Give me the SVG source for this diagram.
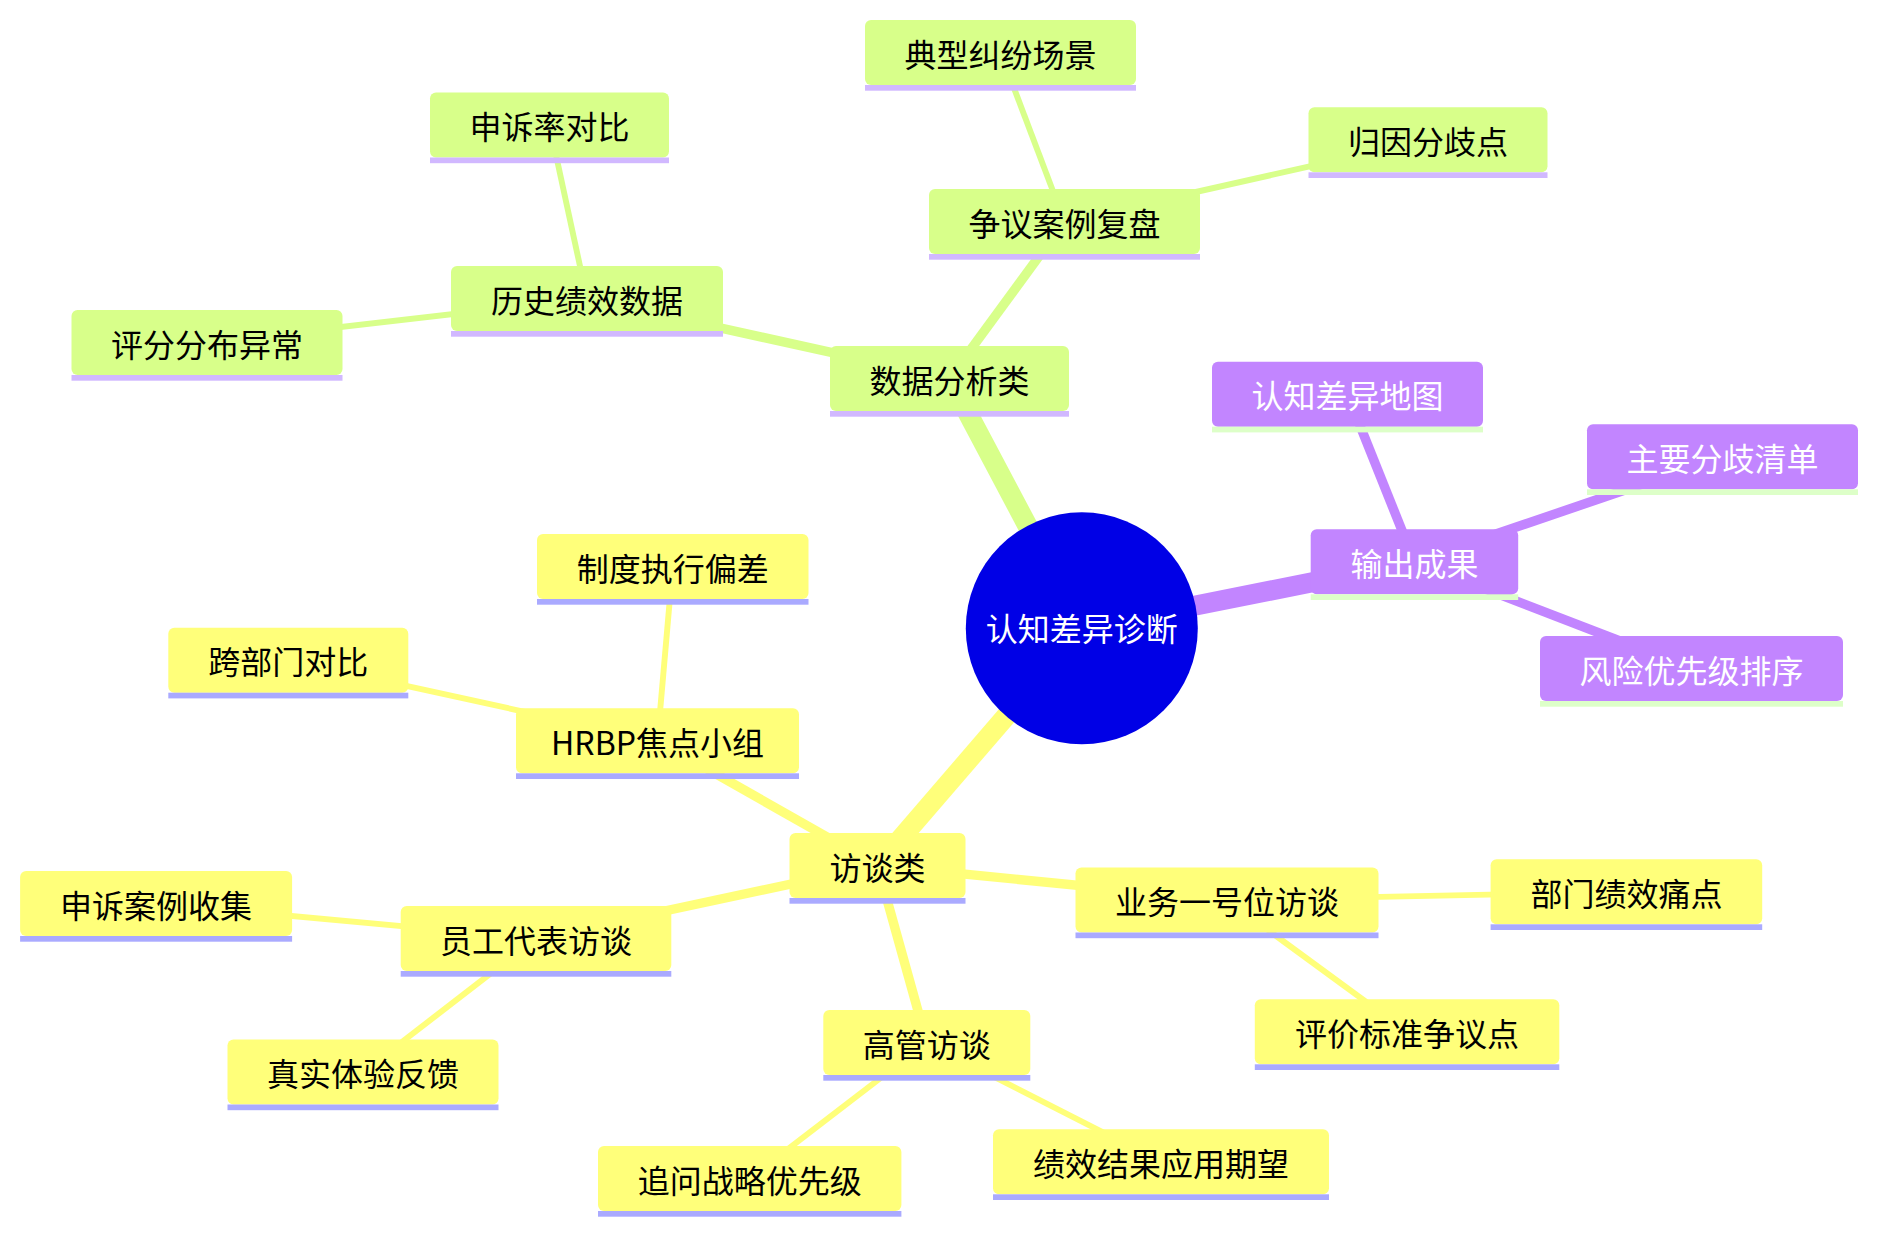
<svg xmlns="http://www.w3.org/2000/svg" width="1878" height="1233" viewBox="0 0 1878 1233">
<style>
text{font-family:"Noto Sans CJK SC","Noto Sans",sans-serif;font-size:32px;text-anchor:middle;dominant-baseline:central}
.g rect.b{fill:#d8ff8a}.g rect.u{fill:#d1b8ff}.g text{fill:#000}
.y rect.b{fill:#ffff7a}.y rect.u{fill:#aaaaff}.y text{fill:#000}
.p rect.b{fill:#c285ff}.p rect.u{fill:#ddffc8}.p text{fill:#fff}
.eg{stroke:#d8ff8a}.ey{stroke:#ffff7a}.ep{stroke:#c285ff}
.d0{stroke-width:20}.d1{stroke-width:9.4}.d2{stroke-width:5.9}
</style>
<rect width="1878" height="1233" fill="#fff"/>
<g id="connectors" fill="none">
<line class="eg d0" x1="1081.8" y1="628.3" x2="949.5" y2="378.5"/>
<line class="eg d1" x1="949.5" y1="378.5" x2="587" y2="298.5"/>
<line class="eg d2" x1="587" y1="298.5" x2="549.5" y2="125"/>
<line class="eg d2" x1="587" y1="298.5" x2="207" y2="342.5"/>
<line class="eg d1" x1="949.5" y1="378.5" x2="1064.5" y2="221.5"/>
<line class="eg d2" x1="1064.5" y1="221.5" x2="1000.5" y2="52.5"/>
<line class="eg d2" x1="1064.5" y1="221.5" x2="1428" y2="139.8"/>
<line class="ep d0" x1="1081.8" y1="628.3" x2="1414.5" y2="561.8"/>
<line class="ep d1" x1="1414.5" y1="561.8" x2="1347.5" y2="394.2"/>
<line class="ep d1" x1="1414.5" y1="561.8" x2="1722.5" y2="456.8"/>
<line class="ep d1" x1="1414.5" y1="561.8" x2="1691.5" y2="668.5"/>
<line class="ey d0" x1="1081.8" y1="628.3" x2="877.5" y2="865.5"/>
<line class="ey d1" x1="877.5" y1="865.5" x2="657.5" y2="740.8"/>
<line class="ey d2" x1="657.5" y1="740.8" x2="672.7" y2="566.5"/>
<line class="ey d2" x1="657.5" y1="740.8" x2="288.3" y2="660.2"/>
<line class="ey d1" x1="877.5" y1="865.5" x2="536" y2="938.5"/>
<line class="ey d2" x1="536" y1="938.5" x2="156.1" y2="903.5"/>
<line class="ey d2" x1="536" y1="938.5" x2="363" y2="1072"/>
<line class="ey d1" x1="877.5" y1="865.5" x2="926.8" y2="1042.5"/>
<line class="ey d2" x1="926.8" y1="1042.5" x2="749.7" y2="1178.5"/>
<line class="ey d2" x1="926.8" y1="1042.5" x2="1161" y2="1161.8"/>
<line class="ey d1" x1="877.5" y1="865.5" x2="1227" y2="900"/>
<line class="ey d2" x1="1227" y1="900" x2="1626.4" y2="891.8"/>
<line class="ey d2" x1="1227" y1="900" x2="1407" y2="1031.8"/>
</g>
<g id="root"><circle cx="1081.8" cy="628.3" r="116" fill="#0000e6"/><text x="1081.8" y="626.5" fill="#fff">认知差异诊断</text></g>
<g id="n-data" class="g"><rect class="b" x="830" y="346" width="239" height="65" rx="6"/><rect class="u" x="830" y="411" width="239" height="5.7"/><text x="949.5" y="378.5">数据分析类</text></g>
<g id="n-hist" class="g"><rect class="b" x="451" y="266" width="272" height="65" rx="6"/><rect class="u" x="451" y="331" width="272" height="5.7"/><text x="587" y="298.5">历史绩效数据</text></g>
<g id="n-appeal" class="g"><rect class="b" x="430" y="92.5" width="239" height="65" rx="6"/><rect class="u" x="430" y="157.5" width="239" height="5.7"/><text x="549.5" y="125">申诉率对比</text></g>
<g id="n-dist" class="g"><rect class="b" x="71.5" y="310" width="271" height="65" rx="6"/><rect class="u" x="71.5" y="375" width="271" height="5.7"/><text x="207" y="342.5">评分分布异常</text></g>
<g id="n-case" class="g"><rect class="b" x="929" y="189" width="271" height="65" rx="6"/><rect class="u" x="929" y="254" width="271" height="5.7"/><text x="1064.5" y="221.5">争议案例复盘</text></g>
<g id="n-typical" class="g"><rect class="b" x="865" y="20" width="271" height="65" rx="6"/><rect class="u" x="865" y="85" width="271" height="5.7"/><text x="1000.5" y="52.5">典型纠纷场景</text></g>
<g id="n-attr" class="g"><rect class="b" x="1308.5" y="107.3" width="239" height="65" rx="6"/><rect class="u" x="1308.5" y="172.3" width="239" height="5.7"/><text x="1428" y="139.8">归因分歧点</text></g>
<g id="n-output" class="p"><rect class="b" x="1310.7" y="529.3" width="207.5" height="65" rx="6"/><rect class="u" x="1310.7" y="594.3" width="207.5" height="5.7"/><text x="1414.5" y="561.8">输出成果</text></g>
<g id="n-map" class="p"><rect class="b" x="1212" y="361.7" width="271" height="65" rx="6"/><rect class="u" x="1212" y="426.7" width="271" height="5.7"/><text x="1347.5" y="394.2">认知差异地图</text></g>
<g id="n-list" class="p"><rect class="b" x="1587" y="424.3" width="271" height="65" rx="6"/><rect class="u" x="1587" y="489.3" width="271" height="5.7"/><text x="1722.5" y="456.8">主要分歧清单</text></g>
<g id="n-risk" class="p"><rect class="b" x="1540" y="636" width="303" height="65" rx="6"/><rect class="u" x="1540" y="701" width="303" height="5.7"/><text x="1691.5" y="668.5">风险优先级排序</text></g>
<g id="n-interview" class="y"><rect class="b" x="789.5" y="833" width="176" height="65" rx="6"/><rect class="u" x="789.5" y="898" width="176" height="5.7"/><text x="877.5" y="865.5">访谈类</text></g>
<g id="n-hrbp" class="y"><rect class="b" x="516" y="708.3" width="283" height="65" rx="6"/><rect class="u" x="516" y="773.3" width="283" height="5.7"/><text x="657.5" y="740.8">HRBP焦点小组</text></g>
<g id="n-exec" class="y"><rect class="b" x="537" y="534" width="271.5" height="65" rx="6"/><rect class="u" x="537" y="599" width="271.5" height="5.7"/><text x="672.7" y="566.5">制度执行偏差</text></g>
<g id="n-cross" class="y"><rect class="b" x="168.3" y="627.7" width="240" height="65" rx="6"/><rect class="u" x="168.3" y="692.7" width="240" height="5.7"/><text x="288.3" y="660.2">跨部门对比</text></g>
<g id="n-staff" class="y"><rect class="b" x="400.7" y="906" width="270.6" height="65" rx="6"/><rect class="u" x="400.7" y="971" width="270.6" height="5.7"/><text x="536" y="938.5">员工代表访谈</text></g>
<g id="n-collect" class="y"><rect class="b" x="20.1" y="871" width="272" height="65" rx="6"/><rect class="u" x="20.1" y="936" width="272" height="5.7"/><text x="156.1" y="903.5">申诉案例收集</text></g>
<g id="n-real" class="y"><rect class="b" x="227.5" y="1039.5" width="271" height="65" rx="6"/><rect class="u" x="227.5" y="1104.5" width="271" height="5.7"/><text x="363" y="1072">真实体验反馈</text></g>
<g id="n-exec2" class="y"><rect class="b" x="823.3" y="1010" width="207" height="65" rx="6"/><rect class="u" x="823.3" y="1075" width="207" height="5.7"/><text x="926.8" y="1042.5">高管访谈</text></g>
<g id="n-strat" class="y"><rect class="b" x="598" y="1146" width="303.4" height="65" rx="6"/><rect class="u" x="598" y="1211" width="303.4" height="5.7"/><text x="749.7" y="1178.5">追问战略优先级</text></g>
<g id="n-apply" class="y"><rect class="b" x="993" y="1129.3" width="336" height="65" rx="6"/><rect class="u" x="993" y="1194.3" width="336" height="5.7"/><text x="1161" y="1161.8">绩效结果应用期望</text></g>
<g id="n-biz" class="y"><rect class="b" x="1075.5" y="867.5" width="303" height="65" rx="6"/><rect class="u" x="1075.5" y="932.5" width="303" height="5.7"/><text x="1227" y="900">业务一号位访谈</text></g>
<g id="n-pain" class="y"><rect class="b" x="1490.6" y="859.3" width="271.6" height="65" rx="6"/><rect class="u" x="1490.6" y="924.3" width="271.6" height="5.7"/><text x="1626.4" y="891.8">部门绩效痛点</text></g>
<g id="n-std" class="y"><rect class="b" x="1254.8" y="999.3" width="304.5" height="65" rx="6"/><rect class="u" x="1254.8" y="1064.3" width="304.5" height="5.7"/><text x="1407" y="1031.8">评价标准争议点</text></g>
</svg>
